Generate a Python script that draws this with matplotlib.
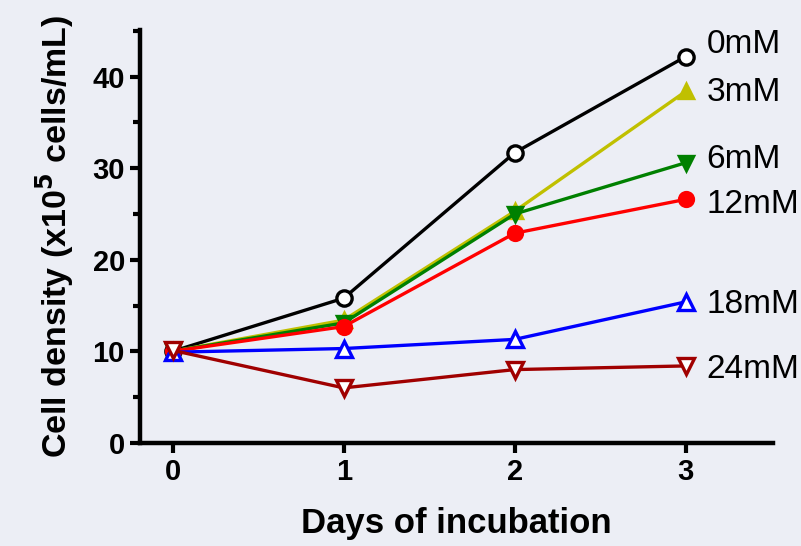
import numpy as np
import matplotlib
matplotlib.use("Agg")
import matplotlib.pyplot as plt
from matplotlib.ticker import MultipleLocator

plt.rcParams["font.family"] = ["Liberation Sans", "DejaVu Sans"]

# values
days = [0, 1, 2, 3]
conc_labels = ["0mM", "3mM", "6mM", "12mM", "18mM", "24mM"]
d_0mM = [10.0, 15.8, 31.7, 42.2]
d_3mM = [10.0, 13.4, 25.3, 38.4]
d_6mM = [10.0, 13.1, 25.0, 30.6]
d_12mM = [10.0, 12.7, 22.9, 26.6]
d_18mM = [9.9, 10.3, 11.3, 15.4]
d_24mM = [10.1, 6.0, 8.0, 8.4]
label_y = [43.5, 38.3, 31.0, 26.0, 15.1, 8.0]

series = [d_0mM, d_3mM, d_6mM, d_12mM, d_18mM, d_24mM]
colors = ["black", "#c0c000", "#008000", "#ff0000", "#0000ff", "#a00000"]
markers = ["o", "^", "v", "o", "^", "v"]
open_marker = [True, False, False, False, True, True]

bg = "#eceef5"
fig = plt.figure(figsize=(8.01, 5.46), dpi=100, facecolor=bg)
ax = fig.add_axes([0.175, 0.189, 0.79, 0.756])
ax.set_facecolor(bg)

for vals, c, m, op in zip(series, colors, markers, open_marker):
    ax.plot(days, vals, color=c, lw=2.4, marker=m, ms=11 if op else 10,
            mfc="white" if op else c, mec=c, mew=2.4, clip_on=False)

for lab, ly in zip(conc_labels, label_y):
    ax.text(3.12, ly, lab, fontsize=24, va="center", ha="left", clip_on=False)

ax.set_xlim(-0.19, 3.51)
ax.set_ylim(0, 45.1)
ax.set_xticks(days)
ax.yaxis.set_major_locator(MultipleLocator(10))
ax.yaxis.set_minor_locator(MultipleLocator(5))

for s in ["top", "right"]:
    ax.spines[s].set_visible(False)
for s in ["left", "bottom"]:
    ax.spines[s].set_linewidth(3.2)

ax.tick_params(which="major", length=7, width=3, labelsize=21, pad=4)
ax.tick_params(which="minor", length=5, width=3)
for t in ax.get_xticklabels() + ax.get_yticklabels():
    t.set_fontweight("bold")

ax.set_xlabel("Days of incubation", fontsize=25, fontweight="bold", labelpad=15)
ax.set_ylabel(r"Cell density (x10$^{\mathbf{5}}$ cells/mL)", fontsize=24.5,
              fontweight="bold", labelpad=12)

fig.savefig("out.png", dpi=100, facecolor=bg)
